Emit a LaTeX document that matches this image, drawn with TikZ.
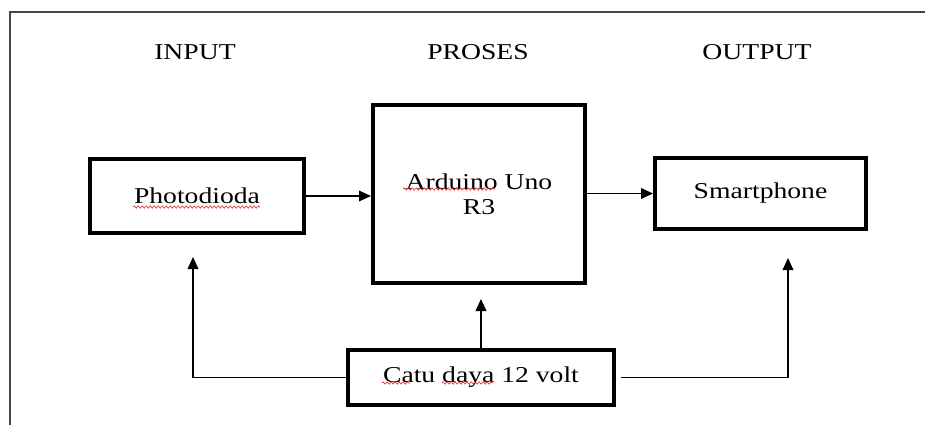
\documentclass[tikz,border=0pt]{standalone}
\usepackage{fontspec}
\setmainfont{Liberation Serif}[FakeStretch=1.22]
\usepackage{xcolor}
\usepackage{tikz}
\usetikzlibrary{arrows.meta,positioning,decorations.pathmorphing}
\definecolor{framegray}{RGB}{70,70,70}
\definecolor{spellred}{RGB}{230,40,40}
\tikzset{
	>=Triangle,
	blockbox/.style={
		draw,
		line width=3pt,
		inner sep=0pt,
		align=center,
		font=\fontsize{17}{19}\selectfont
	},
	heading/.style={
		font=\fontsize{17}{19}\selectfont
	},
	conn/.style={
		-{Triangle[length=9pt,width=8pt]},
		line width=1.1pt
	},
	framerule/.style={
		draw=framegray,
		line width=1.6pt
	},
	spellline/.style={
		draw=spellred,
		line width=0.5pt,
		decorate,
		decoration={snake, segment length=3pt, amplitude=0.8pt}
	}
}

\begin{document}
\begin{tikzpicture}[x=0.75pt,y=-0.75pt]
	\useasboundingbox (0,0) rectangle (925,425);
	
	% --- PAGE FRAME ---
	\draw[framerule] (10,425) -- (10,12) -- (925,12);
	
	% --- HEADINGS ---
	\node[heading] (hin)  at (195,52) {INPUT};
	\node[heading] (hpro) at (478,52) {PROSES};
	\node[heading] (hout) at (757,52) {OUTPUT};
	
	% --- BLOCKS ---
	\node[blockbox, minimum width=160.5pt, minimum height=55.5pt] (pd) at (197,196) {Photodioda};
	\node[blockbox, minimum width=159pt, minimum height=133.5pt] (ard) at (479,194) {Arduino Uno\\R3};
	\node[blockbox, minimum width=158.25pt, minimum height=53.25pt] (sp) at (760.5,193.5) {Smartphone};
	\node[blockbox, minimum width=199.5pt, minimum height=41.25pt] (catu) at (481,377.5) {Catu daya 12 volt};
	
	% --- SPELL-CHECK WAVES ---
	\draw[spellline] ([shift={(-64,11)}]pd.center) -- ([shift={(63,11)}]pd.center);
	\draw[spellline] ([shift={(-76,-5)}]ard.center) -- ([shift={(16,-5)}]ard.center);
	\draw[spellline] ([shift={(-99,5.5)}]catu.center) -- ([shift={(-71,5.5)}]catu.center);
	\draw[spellline] ([shift={(-39,5.5)}]catu.center) -- ([shift={(12,5.5)}]catu.center);
	
	% --- ARROW TIPS BELOW THE BLOCKS ---
	\coordinate (pdin)  at (193,257);
	\coordinate (ardin) at (481,299);
	\coordinate (spin)  at (788,258);
	
	% --- CONNECTIONS ---
	\draw[conn] (pd.east) -- (ard.west |- pd.east);
	\draw[conn] (ard.east |- sp.west) -- (sp.west);
	\draw[conn] (catu.north) -- (ardin);
	\draw[conn] (catu.west) -| (pdin);
	\draw[conn] ([xshift=4pt]catu.east) -| (spin);
	
\end{tikzpicture}
\end{document}
